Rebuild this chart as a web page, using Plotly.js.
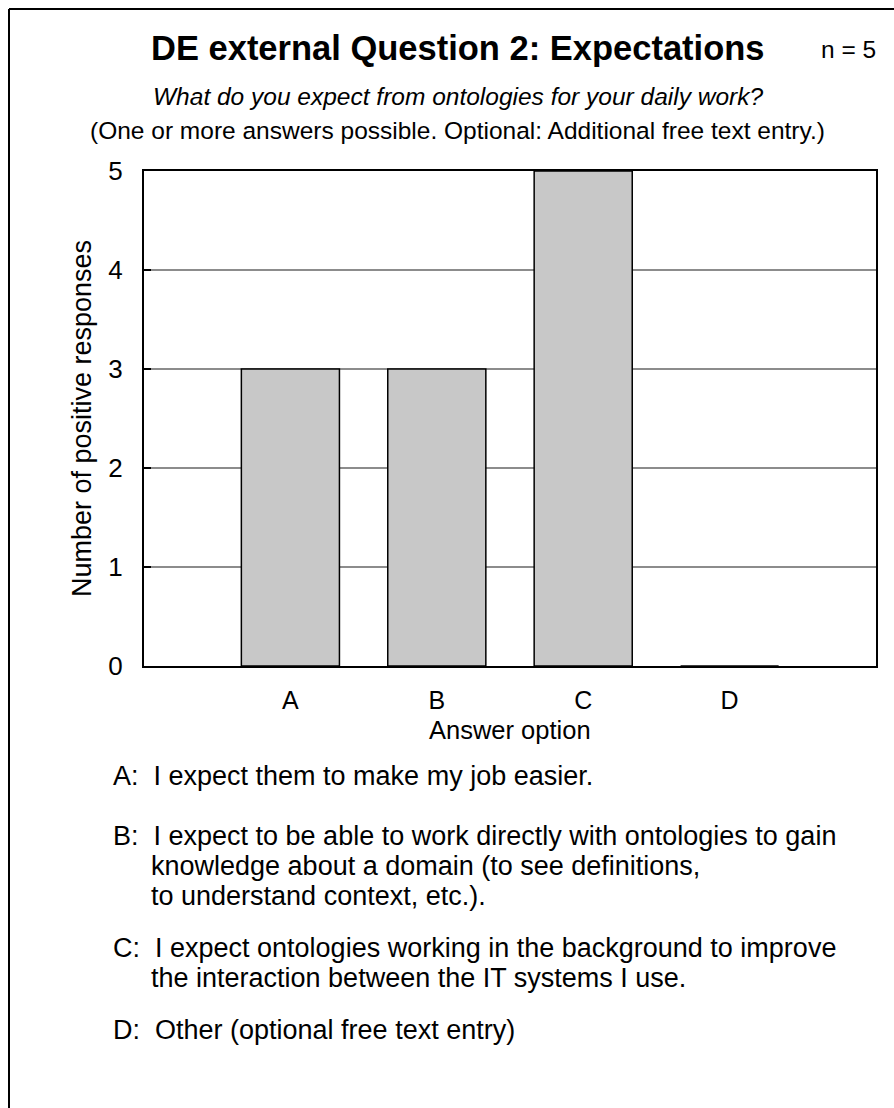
<!DOCTYPE html>
<html><head><meta charset="utf-8">
<script src="https://cdn.plot.ly/plotly-3.0.1.min.js"></script>
<style>html,body{margin:0;padding:0;background:#fff;}#chart{width:894px;height:1108px;}</style>
</head><body><div id="chart"></div>
<script>
const categories = ["A", "B", "C", "D"];
const responses = [3, 3, 5, 0];
const titleText = "DE external Question 2: Expectations";
const nText = "n = 5";
const subtitle1 = "What do you expect from ontologies for your daily work?";
const subtitle2 = "(One or more answers possible. Optional: Additional free text entry.)";
const xTitle = "Answer option";
const yTitle = "Number of positive responses";
const legendLines = [
  "A:  I expect them to make my job easier.",
  "B:  I expect to be able to work directly with ontologies to gain",
  "knowledge about a domain (to see definitions,",
  "to understand context, etc.).",
  "C:  I expect ontologies working in the background to improve",
  "the interaction between the IT systems I use.",
  "D:  Other (optional free text entry)"
];

const W = 894, H = 1108;
const L = 144, R = 876, T = 171, B = 666;
const pw = R - L, ph = B - T;
const px = x => (x - L) / pw;
const py = y => (B - y) / ph;
const FONT = "Liberation Sans, Arial, sans-serif";

const legendPos = [[111, 776], [111, 836], [149, 866], [149, 896], [111, 948], [149, 978], [111, 1030]];

const annotations = [
  {text: "<b>" + titleText + "</b>", x: px(458), y: py(48), font: {size: 34.5}},
  {text: nText, x: px(848), y: py(50), font: {size: 24.5}},
  {text: "<i>" + subtitle1 + "</i>", x: px(458), y: py(97), font: {size: 24.5}},
  {text: subtitle2, x: px(457), y: py(131), font: {size: 24.5}},
  {text: xTitle, x: px(510), y: py(730), font: {size: 25.5}}
].map(a => Object.assign({xref: "paper", yref: "paper", showarrow: false, xanchor: "center", yanchor: "middle"}, a));

legendLines.forEach((t, i) => {
  annotations.push({text: t, xref: "paper", yref: "paper", x: px(legendPos[i][0]), y: py(legendPos[i][1]),
    xanchor: "left", yanchor: "middle", showarrow: false, font: {size: 27}});
});

const shapes = [
  {type: "line", xref: "paper", yref: "paper", x0: px(9), x1: px(W + 5), y0: py(9), y1: py(9), line: {color: "#000", width: 2}},
  {type: "line", xref: "paper", yref: "paper", x0: px(9), x1: px(9), y0: py(9), y1: py(H + 5), line: {color: "#000", width: 2}}
];

const trace = {
  type: "bar", x: categories.map((c, i) => i), y: responses, width: 0.67,
  marker: {color: "#c8c8c8", line: {color: "#000", width: 1.5}},
  hoverinfo: "skip"
};

const layout = {
  width: W, height: H,
  margin: {l: L, r: W - R, t: T, b: H - B, pad: 0},
  paper_bgcolor: "#fff", plot_bgcolor: "#fff",
  font: {family: FONT, color: "#000", size: 24},
  showlegend: false,
  xaxis: {
    range: [-1, 4], tickvals: [0, 1, 2, 3], ticktext: categories, ticks: "",
    showgrid: false, zeroline: false, showline: true, mirror: true, linecolor: "#000", linewidth: 2,
    tickfont: {size: 25}, ticklabelstandoff: 11, fixedrange: true
  },
  yaxis: {
    range: [0, 5], tickvals: [0, 1, 2, 3, 4, 5], ticks: "inside", ticklen: 7, tickwidth: 2, tickcolor: "#000",
    showgrid: true, gridcolor: "#8c8c8c", gridwidth: 1.5, zeroline: false,
    showline: true, mirror: true, linecolor: "#000", linewidth: 2,
    tickfont: {size: 26}, ticklabelstandoff: 14, fixedrange: true,
    title: {text: yTitle, font: {size: 27}, standoff: 9}
  },
  annotations: annotations,
  shapes: shapes
};

Plotly.newPlot("chart", [trace], layout, {displayModeBar: false, staticPlot: true});
</script></body></html>
